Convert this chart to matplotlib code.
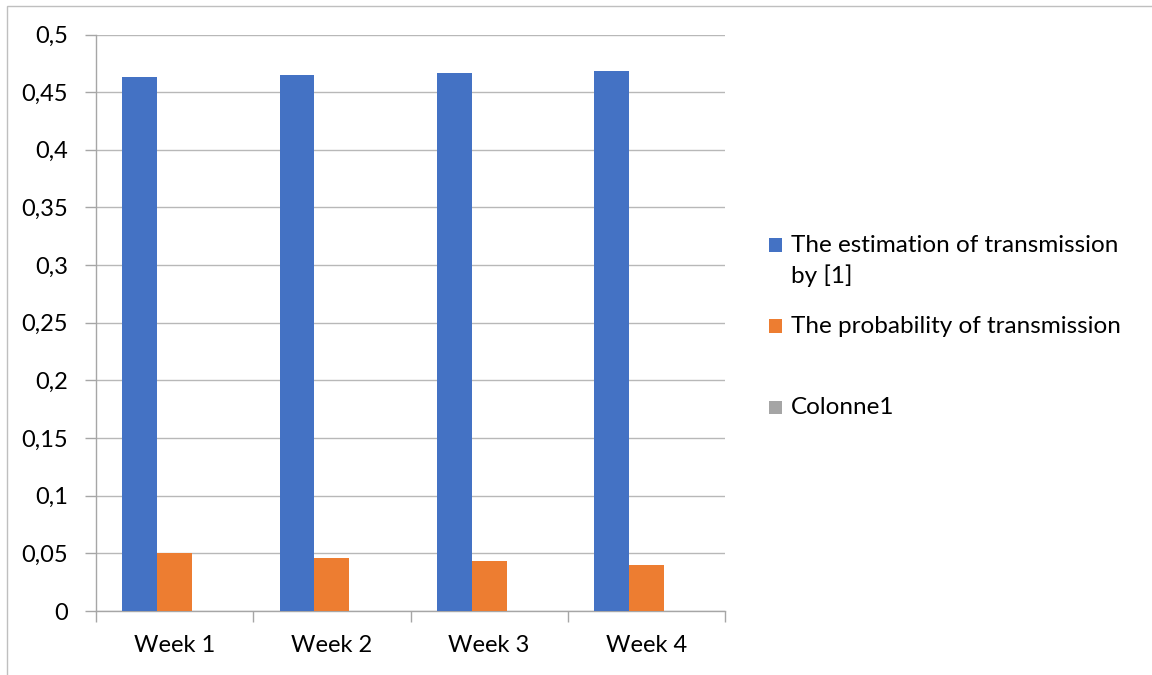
import matplotlib
matplotlib.use("Agg")
import matplotlib.pyplot as plt
import numpy as np
from matplotlib.patches import Rectangle

plt.rcParams['font.family'] = ['Lato', 'DejaVu Sans']

weeks = ["Week 1", "Week 2", "Week 3", "Week 4"]
estimation = [0.463, 0.465, 0.467, 0.468]
probability = [0.050, 0.046, 0.043, 0.040]
colonne1 = [0, 0, 0, 0]
series_labels = ["The estimation of transmission\nby [1]",
                 "The probability of transmission",
                 "Colonne1"]
colors = ["#4472C4", "#ED7D31", "#A5A5A5"]
yticks = [0, 0.05, 0.1, 0.15, 0.2, 0.25, 0.3, 0.35, 0.4, 0.45, 0.5]
ytick_labels = ["0", "0,05", "0,1", "0,15", "0,2", "0,25", "0,3", "0,35", "0,4", "0,45", "0,5"]

W, H = 1152, 675
fig = plt.figure(figsize=(W / 100, H / 100), dpi=100)

# chart area border
fig.patches.append(Rectangle((7 / W, -0.1), 1.2, 1 - 6 / H + 0.1, transform=fig.transFigure,
                             fill=False, edgecolor="#bfbfbf", linewidth=1.0))

ax = fig.add_axes([96 / W, 1 - 611 / H, (725 - 96) / W, (611 - 34.5) / H])

x = np.arange(len(weeks))
bw = 0.222
for i, vals in enumerate([estimation, probability, colonne1]):
    ax.bar(x + (i - 1) * bw, vals, width=bw, color=colors[i], zorder=3)

ax.set_xlim(-0.5, len(weeks) - 0.5)
ax.set_ylim(0, 0.5)
ax.set_yticks(yticks)
ax.set_yticklabels(ytick_labels)
ax.set_xticks(x)
ax.set_xticklabels(weeks)
ax.set_xticks(np.arange(-0.5, len(weeks), 1), minor=True)

axis_c = "#a6a6a6"
ax.grid(axis="y", color="#b8b8b8", linewidth=1.0, zorder=0)
for s in ["top", "right"]:
    ax.spines[s].set_visible(False)
for s in ["left", "bottom"]:
    ax.spines[s].set_color(axis_c)
    ax.spines[s].set_linewidth(1.0)

ax.tick_params(axis="x", which="major", length=0, labelsize=17, pad=17, colors="#000000")
ax.tick_params(axis="x", which="minor", length=8, color=axis_c, width=1.0)
ax.tick_params(axis="y", length=8, color=axis_c, width=1.0, labelsize=17, pad=12)
for lbl in ax.get_xticklabels() + ax.get_yticklabels():
    lbl.set_color("#000000")

# legend
legend_rows = [(245, 0), (326, 1), (407, 2)]
for y_px, i in legend_rows:
    fig.patches.append(Rectangle((769 / W, 1 - (y_px + 6.5) / H), 13 / W, 13 / H,
                                 transform=fig.transFigure, facecolor=colors[i], edgecolor="none"))
    for k, line in enumerate(series_labels[i].split("\n")):
        fig.text(791 / W, 1 - (y_px + 31 * k) / H, line, fontsize=17.5, va="center", ha="left",
                 color="#000000")

fig.savefig("out.png", dpi=100)
